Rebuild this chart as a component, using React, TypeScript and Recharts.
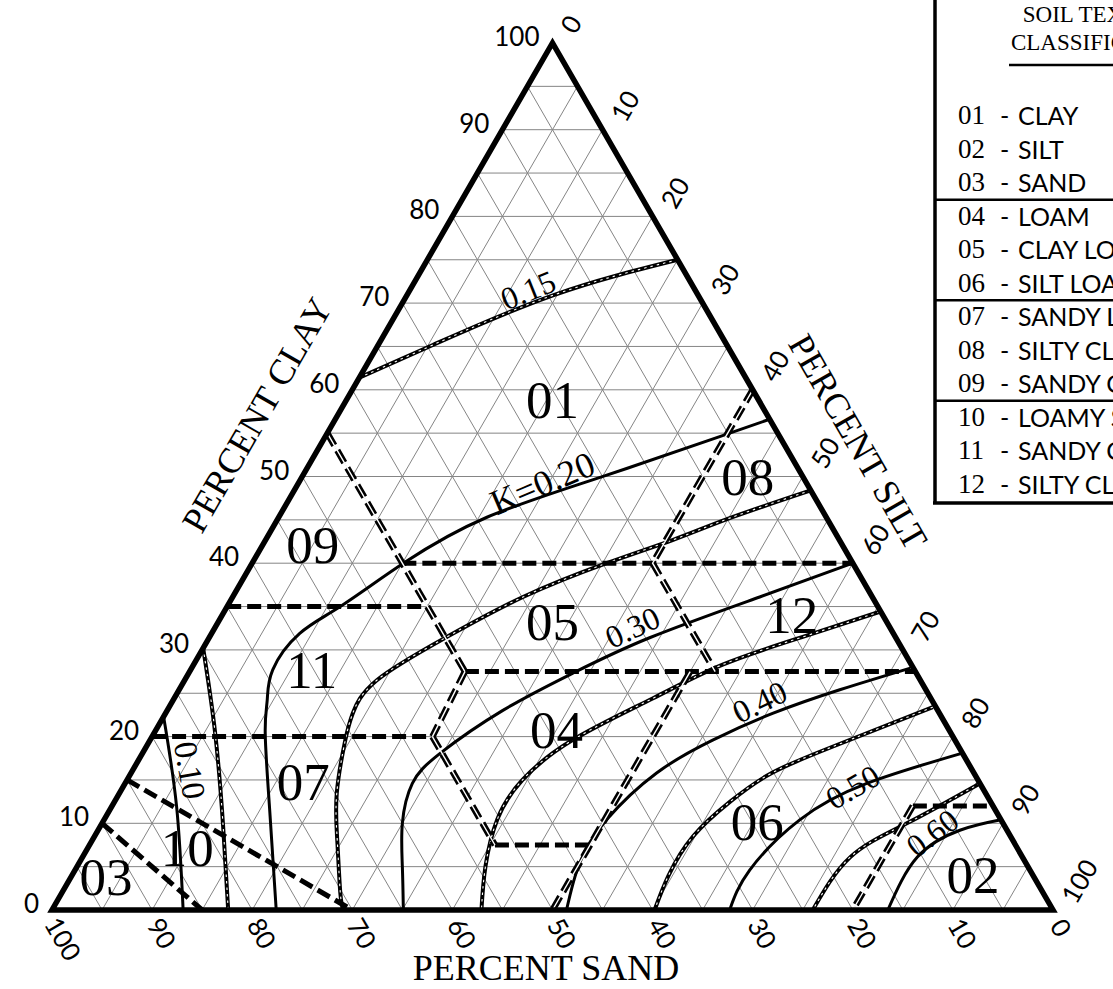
import React from "react";
import { ComposedChart, Line, Scatter, XAxis, YAxis } from "recharts";

// ternary points are [silt %, clay %]; sand = 100 - silt - clay
type TP = [number, number];

const W = 1113;
const H = 989;
const SERIF = '"Liberation Serif", "Times New Roman", serif';
const SANS = 'Lato, "Open Sans", sans-serif';

const GRID_STEPS = [5, 10, 15, 20, 25, 30, 35, 40, 45, 50, 55, 60, 65, 70, 75, 80, 85, 90, 95];
const AXIS_TICKS = [0, 10, 20, 30, 40, 50, 60, 70, 80, 90, 100];

// texture class boundaries (double-stroked ones)
const SAND45_EDGE: TP[] = [[0, 55], [15, 40], [27.5, 27.5]];
const SILTY_CLAY_EDGE: TP[] = [[40, 60], [40, 40], [52.5, 27.5]];
const SILT28_EDGE: TP[] = [[27.5, 27.5], [28, 20]];
const SAND52_EDGE: TP[] = [[28, 20], [40.5, 7.5]];
const SILT50_EDGE: TP[] = [[50, 27.5], [50, 0]];
const SILT80_EDGE: TP[] = [[80, 12], [80, 0]];
// plain dashed boundaries
const CLAY40_EDGE: TP[] = [[15, 40], [60, 40]];
const CLAY35_EDGE: TP[] = [[0, 35], [20, 35]];
const CLAY27_EDGE: TP[] = [[27.5, 27.5], [72.5, 27.5]];
const CLAY20_EDGE: TP[] = [[0, 20], [28, 20]];
const CLAY7_EDGE: TP[] = [[40.5, 7.5], [50, 7.5]];
const CLAY12_EDGE: TP[] = [[80, 12], [88, 12]];
const LOAMY_SAND_EDGE: TP[] = [[0, 15], [30, 0]];
const SAND_EDGE: TP[] = [[0, 10], [15, 0]];

// K-factor contours, solid
const K10: TP[] = [[0, 22.3], [6.5, 11.9], [13.1, 0]];
const K20: TP[] = [[43.4, 56.6], [39.4, 54.6], [29.8, 49.9], [20.8, 45.3], [15.2, 40.1], [11.3, 35], [8.8, 31.9], [8.2, 27.7], [9.4, 24.2], [11.1, 20.4], [16, 11.5], [22.4, 0]];
const K30: TP[] = [[60, 40], [52.65, 36.1], [44, 31.4], [38.35, 27.3], [33.5, 23], [29.75, 18.1], [28.7, 14.6], [30, 10], [32.5, 5], [35.1, 0]];
const K40: TP[] = [[71.8, 27.9], [66, 25.4], [60.7, 22.7], [56.2, 19.6], [52.5, 15.8], [50.2, 10.4], [50, 5.4], [51.4, 0]];
const K50: TP[] = [[81.9, 18.1], [74.1, 14.6], [69.5, 10.4], [67.4, 4.6], [67.7, 0]];
const K60: TP[] = [[89.6, 10.4], [86.1, 9.2], [83.4, 6.1], [83.5, 0]];
// K-factor contours, dash-dot
const K15_HIGH: TP[] = [[0, 61.4], [5.5, 65.2], [14.6, 70.9], [25, 75]];
const K15_LOW: TP[] = [[0, 30.2], [6.1, 20.4], [12.3, 9.6], [17.6, 0]];
const K25: TP[] = [[51.6, 48.4], [45.1, 45.2], [40.7, 42.7], [35.4, 40], [29, 36.1], [23.7, 31.5], [19.2, 26.5], [18.7, 22.7], [19.5, 19.6], [21.7, 13.5], [24.5, 8], [27.8, 2], [29.1, 0]];
const K35: TP[] = [[65.5, 34.4], [59.25, 31.5], [52.85, 28.3], [47.8, 24.4], [42.2, 19.6], [39.5, 15], [39.25, 10.5], [40.8, 5], [42.9, 0]];
const K45: TP[] = [[76.3, 23.4], [68.5, 18.8], [64, 15.8], [61.5, 12.5], [59.8, 8.5], [59.6, 4], [60.2, 0]];
const K55: TP[] = [[85.4, 14.6], [80.4, 10], [76.7, 6.1], [76, 0]];

const REGION_CODES = ["01", "02", "03", "04", "05", "06", "07", "08", "09", "10", "11", "12"];
const REGION_AT: TP[] = [[20.6, 58.8], [90, 4], [3.5, 3.8], [40, 20.8], [33.4, 33.2], [65.4, 10.1], [17.7, 14.8], [44.5, 50], [5, 42.1], [9.9, 7.2], [12.1, 27.7], [56.9, 34]];
const REGION_NAMES = ["CLAY", "SILT", "SAND", "LOAM", "CLAY LOAM", "SILT LOAM", "SANDY LOAM", "SILTY CLAY", "SANDY CLAY", "LOAMY SAND", "SANDY CLAY LOAM", "SILTY CLAY LOAM"];

const K_TEXT = ["0.10", "0.15", "K=0.20", "0.30", "0.40", "0.50", "0.60"];
const K_AT: TP[] = [[5.7, 16.1], [11.8, 71.5], [24.4, 49.2], [41.7, 32.6], [58.7, 24], [72.9, 14.2], [83.5, 8.9]];
const K_ANGLE = [80, -22, -23, -25, -26, -30, -37];
const K_SIZE = [33, 32, 36, 32, 32, 32, 32];

const toXY = ([s, c]: TP) => ({ x: s + c / 2, y: c });
const pts = (line: TP[]) => line.map(toXY);

const gridSegments: TP[][] = GRID_STEPS.flatMap((v) => [
  [[0, v], [100 - v, v]] as TP[],
  [[v, 0], [v, 100 - v]] as TP[],
  [[100 - v, 0], [0, 100 - v]] as TP[],
]);
const frame: TP[] = [[0, 0], [100, 0], [0, 100], [0, 0], [100, 0]];

const clayTicks = AXIS_TICKS.map((v) => ({ ...toXY([0, v]), text: String(v) }));
const siltTicks = AXIS_TICKS.map((v) => ({ ...toXY([v, 100 - v]), text: String(v) }));
const sandTicks = AXIS_TICKS.map((v) => ({ ...toXY([100 - v, 0]), text: String(v) }));
const regionLabels = REGION_CODES.map((t, i) => ({ ...toXY(REGION_AT[i]), text: t }));
const kLabels = K_TEXT.map((t, i) => ({ ...toXY(K_AT[i]), text: t, idx: i }));

const ClayTick = (p: any) => (
  <text x={p.cx - 13} y={p.cy - 7} textAnchor="end" dominantBaseline="central" fontFamily={SANS} fontSize={26} fill="#000">
    {p.payload.text}
  </text>
);
const SiltTick = (p: any) => {
  const n = p.payload.text.length;
  const x = p.cx + 14 + 4 * n;
  const y = p.cy - 14 - 5 * n;
  return (
    <text x={x} y={y} textAnchor="middle" dominantBaseline="central" fontFamily={SANS} fontSize={26} fill="#000" transform={`rotate(-60 ${x} ${y})`}>
      {p.payload.text}
    </text>
  );
};
const SandTick = (p: any) => {
  const n = p.payload.text.length;
  const x = p.cx + 7 + 1.5 * n;
  const y = p.cy + 12 + 5.5 * n;
  return (
    <text x={x} y={y} textAnchor="middle" dominantBaseline="central" fontFamily={SANS} fontSize={26} fill="#000" transform={`rotate(60 ${x} ${y})`}>
      {p.payload.text}
    </text>
  );
};
const RegionLabel = (p: any) => (
  <text x={p.cx} y={p.cy} textAnchor="middle" dominantBaseline="central" fontFamily={SERIF} fontSize={53} fill="#000">
    {p.payload.text}
  </text>
);
const KLabel = (p: any) => (
  <text x={p.cx} y={p.cy} textAnchor="middle" dominantBaseline="central" fontFamily={SERIF} fontSize={K_SIZE[p.payload.idx]} fill="#000" transform={`rotate(${K_ANGLE[p.payload.idx]} ${p.cx} ${p.cy})`}>
    {p.payload.text}
  </text>
);

const solidK = [K10, K20, K30, K40, K50, K60];
const dashDotK = [K15_HIGH, K15_LOW, K25, K35, K45, K55];
const doubleEdges = [SAND45_EDGE, SILTY_CLAY_EDGE, SILT28_EDGE, SAND52_EDGE, SILT50_EDGE, SILT80_EDGE];
const plainEdges = [CLAY40_EDGE, CLAY35_EDGE, CLAY27_EDGE, CLAY20_EDGE, CLAY7_EDGE, CLAY12_EDGE, LOAMY_SAND_EDGE, SAND_EDGE];

const legendTop = 115;
const legendStep = 33.5;

const noAnim = { dot: false, activeDot: false, isAnimationActive: false } as const;

export default function App() {
  return (
    <div style={{ position: "fixed", left: 0, top: 0, width: W, height: H, overflow: "hidden", background: "#fff" }}>
      <ComposedChart width={W} height={H} margin={{ top: 43, right: 60, bottom: 79, left: 52 }}>
        <XAxis type="number" dataKey="x" domain={[0, 100]} hide />
        <YAxis type="number" dataKey="y" domain={[0, 100]} hide />
        {gridSegments.map((seg, i) => (
          <Line key={`g${i}`} data={pts(seg)} dataKey="y" type="linear" stroke="#858585" strokeWidth={1} {...noAnim} />
        ))}
        {dashDotK.map((k, i) => (
          <Line key={`dk${i}`} data={pts(k)} dataKey="y" type="natural" stroke="#000" strokeWidth={4} {...noAnim} />
        ))}
        {dashDotK.map((k, i) => (
          <Line key={`dkw${i}`} data={pts(k)} dataKey="y" type="natural" stroke="#fff" strokeWidth={1.1} strokeDasharray="2.5 4" {...noAnim} />
        ))}
        {solidK.map((k, i) => (
          <Line key={`sk${i}`} data={pts(k)} dataKey="y" type="natural" stroke="#000" strokeWidth={3} {...noAnim} />
        ))}
        {plainEdges.map((e, i) => (
          <Line key={`pe${i}`} data={pts(e)} dataKey="y" type="linear" stroke="#000" strokeWidth={5} strokeDasharray="14 6" {...noAnim} />
        ))}
        {doubleEdges.map((e, i) => (
          <Line key={`de${i}`} data={pts(e)} dataKey="y" type="linear" stroke="#000" strokeWidth={6.5} strokeDasharray="14 6" {...noAnim} />
        ))}
        {doubleEdges.map((e, i) => (
          <Line key={`dew${i}`} data={pts(e)} dataKey="y" type="linear" stroke="#fff" strokeWidth={1.4} {...noAnim} />
        ))}
        <Line data={pts(frame)} dataKey="y" type="linear" stroke="#000" strokeWidth={5.5} strokeLinejoin="miter" {...noAnim} />
        <Scatter data={clayTicks} shape={ClayTick} isAnimationActive={false} />
        <Scatter data={siltTicks} shape={SiltTick} isAnimationActive={false} />
        <Scatter data={sandTicks} shape={SandTick} isAnimationActive={false} />
        <Scatter data={regionLabels} shape={RegionLabel} isAnimationActive={false} />
        <Scatter data={kLabels} shape={KLabel} isAnimationActive={false} />
      </ComposedChart>
      <svg width={W} height={H} style={{ position: "absolute", left: 0, top: 0, pointerEvents: "none" }}>
        <text x={546} y={980} textAnchor="middle" fontFamily={SERIF} fontSize={36} fill="#000">PERCENT SAND</text>
        <text x={257} y={415} textAnchor="middle" dominantBaseline="central" fontFamily={SERIF} fontSize={36} fill="#000" transform="rotate(-60 257 415)">PERCENT CLAY</text>
        <text x={858} y={442} textAnchor="middle" dominantBaseline="central" fontFamily={SERIF} fontSize={36} fill="#000" transform="rotate(60 858 442)">PERCENT SILT</text>

        <line x1={935} y1={-5} x2={935} y2={503} stroke="#000" strokeWidth={3.5} />
        <line x1={933} y1={503} x2={1120} y2={503} stroke="#000" strokeWidth={3.5} />
        <text x={1103} y={22} textAnchor="middle" fontFamily={SERIF} fontSize={23} fill="#000">SOIL TEXTURE</text>
        <text x={1103} y={50} textAnchor="middle" fontFamily={SERIF} fontSize={23} fill="#000">CLASSIFICATION</text>
        <line x1={1009} y1={65} x2={1200} y2={65} stroke="#000" strokeWidth={2.5} />
        {[3, 6, 9].map((r) => {
          const y = legendTop + legendStep * (r - 0.5) + 1;
          return <line key={r} x1={935} y1={y} x2={1120} y2={y} stroke="#000" strokeWidth={2.5} />;
        })}
        {REGION_CODES.map((code, i) => {
          const y = legendTop + legendStep * i;
          return (
            <g key={code}>
              <text x={958} y={y} dominantBaseline="central" fontFamily={SERIF} fontSize={27} fill="#000">{code}</text>
              <text x={1000} y={y} dominantBaseline="central" fontFamily={SANS} fontSize={25} fill="#000">-</text>
              <text x={1018} y={y} dominantBaseline="central" fontFamily={SANS} fontSize={25} fill="#000">{REGION_NAMES[i]}</text>
            </g>
          );
        })}
      </svg>
    </div>
  );
}
